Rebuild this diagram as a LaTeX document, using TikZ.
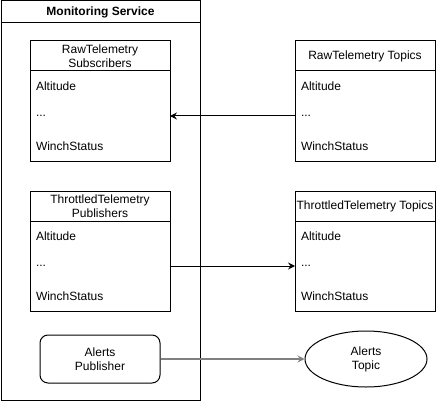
\documentclass[tikz,border=0pt]{standalone}
\usepackage{fontspec}
\setmainfont{Liberation Sans}
\usepackage[svgnames]{xcolor}
\usetikzlibrary{arrows.meta, shapes, positioning}
\tikzset{frame/.style={rectangle, draw, line width=1pt, outer sep=0pt, inner sep=0pt}}
\tikzset{title/.style={frame, minimum width=140pt, minimum height=30pt, align=center}}
\tikzset{field/.style={rectangle, outer sep=0pt, minimum width=140pt, minimum height=30pt, text width=128pt, inner xsep=6pt, inner ysep=0pt, align=left}}
\tikzset{publisher/.style={rectangle, draw, line width=1pt, rounded corners=8pt, minimum width=120pt, minimum height=48pt, align=center}}
\tikzset{topic/.style={ellipse, draw, line width=1pt, inner sep=0pt, minimum width=122pt, minimum height=56pt, align=center}}

\begin{document}
\begin{tikzpicture}[
	x=1pt, y=-1pt,
	->,
	>={Stealth[length=7pt, width=7pt, inset=2.5pt]},
	line width=1pt,
	font=\fontsize{12}{14}\selectfont,
	]
	\useasboundingbox (0,0) rectangle (436,401);
	% monitoring service container
	\node [frame, minimum width=199pt, minimum height=22pt, font=\fontsize{12}{14}\selectfont\bfseries] (svc) at (100.5,12) {Monitoring Service};
	\node [frame, minimum width=199pt, minimum height=377pt, below=0pt of svc] (svcbody) {};
	
	% raw telemetry
	\node [title]  (rs) at (100,56) {RawTelemetry\\Subscribers};
	\node [field]  (rs1) [below=0pt of rs]  {Altitude};
	\node [field]  (rs2) [below=0pt of rs1] {...};
	\node [field]  (rs3) [below=0pt of rs2] {WinchStatus};
	\node [title]  (rt) at (365,56) {RawTelemetry Topics};
	\node [field]  (rt1) [below=0pt of rt]  {Altitude};
	\node [field]  (rt2) [below=0pt of rt1] {...};
	\node [field]  (rt3) [below=0pt of rt2] {WinchStatus};
	
	% throttled telemetry
	\node [title]  (tp) at (100,206) {ThrottledTelemetry\\Publishers};
	\node [field]  (tp1) [below=0pt of tp]  {Altitude};
	\node [field]  (tp2) [below=0pt of tp1] {...};
	\node [field]  (tp3) [below=0pt of tp2] {WinchStatus};
	\node [title]  (tt) at (365,206) {ThrottledTelemetry Topics};
	\node [field]  (tt1) [below=0pt of tt]  {Altitude};
	\node [field]  (tt2) [below=0pt of tt1] {...};
	\node [field]  (tt3) [below=0pt of tt2] {WinchStatus};
	
	\draw [-] (rs1.north west) rectangle (rs3.south east);
	\draw [-] (rt1.north west) rectangle (rt3.south east);
	\draw [-] (tp1.north west) rectangle (tp3.south east);
	\draw [-] (tt1.north west) rectangle (tt3.south east);
	
	% alerts
	\node [publisher] (ap) at (100,359) {Alerts\\Publisher};
	\node [topic]     (at) at (366,359) {Alerts\\Topic};
	
	\path
	(rt2.west) edge (rs2.east)
	(tp2.east) edge (tt2.west)
	(ap) edge [gray, line width=1.3pt] (at);
\end{tikzpicture}
\end{document}
